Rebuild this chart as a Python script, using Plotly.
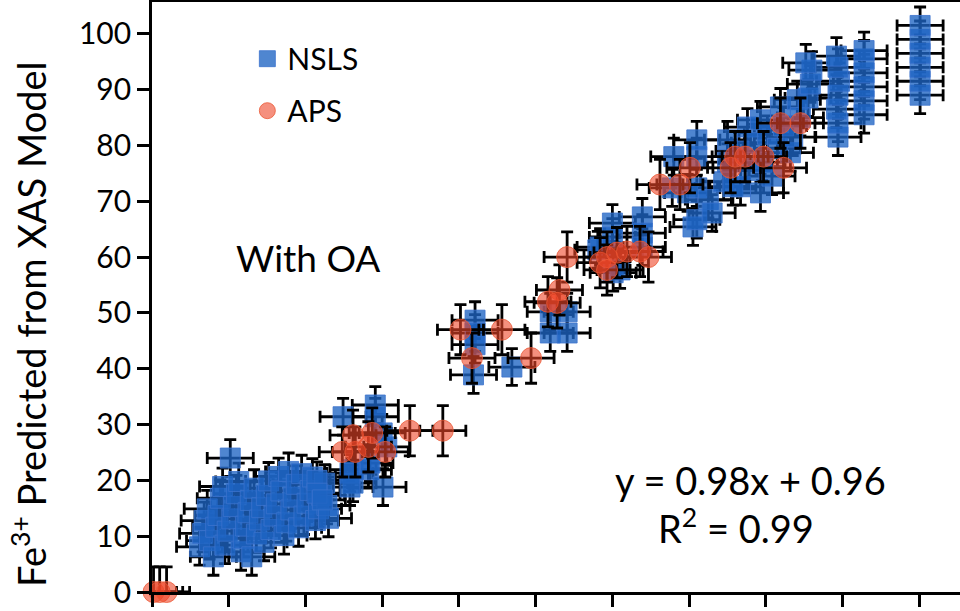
import plotly.graph_objects as go

# ---------------- data ----------------
nsls_x = [6.2, 6.6, 6.8, 7.2, 7.5, 8.0, 8.3, 8.6, 8.9, 9.2, 9.5, 9.8, 10.2, 10.4, 10.6, 11.0, 11.3,
          11.6, 11.9, 12.2, 12.5, 12.8, 13.0, 13.3, 13.6, 14.0, 14.3, 14.6, 14.9, 15.2, 15.5, 15.9,
          16.2, 16.5, 16.8, 17.2, 17.5, 17.8, 18.1, 18.4, 18.8, 19.1, 19.5, 19.8, 20.2, 20.6, 20.9,
          21.3, 21.7, 22.1, 22.5, 22.8, 23.0,
          24.9, 29.1, 29.1, 30.0, 30.6, 26.2, 26.2, 28.2, 28.4, 30.1, 21.5, 21.5, 22.2, 25.8, 25.8,
          42.1, 42.1, 42.1, 41.9, 46.9, 51.9, 54.1, 51.9, 54.1,
          58.1, 58.4, 60.0, 60.0, 60.1, 61.0, 63.9, 63.9, 63.9,
          67.8, 69.8, 70.5, 71.0, 71.0, 71.0, 71.0, 72.5, 73.0, 68.0,
          74.5, 75.0, 75.0, 75.7, 76.5, 76.7, 77.6, 77.8, 78.5, 79.3, 79.3, 79.5, 80.2, 80.8, 81.5,
          81.9, 82.3, 83.2, 83.5, 84.1, 84.5,
          85.5, 85.8, 86.0, 85.2,
          89.4, 89.4, 89.2, 89.4, 89.6, 89.4, 89.2,
          92.8, 92.8, 92.8, 92.8, 92.8, 92.8,
          100.1, 100.1, 100.1, 100.1, 100.1, 100.1]
nsls_y = [8.1, 10.5, 12.8, 14.9, 9.2, 6.3, 11.6, 13.7, 16.8, 18.9, 8.4, 10.9, 24.0, 13.1, 15.3, 17.6, 19.8,
          7.2, 9.6, 11.8, 14.2, 16.4, 6.3, 18.6, 10.4, 12.9, 15.1, 8.9, 17.3, 19.9, 11.2, 13.6,
          15.8, 20.7, 18.1, 10.1, 12.4, 21.6, 14.7, 17.0, 19.3, 11.5, 21.2, 13.6, 15.9, 18.2, 20.6,
          12.8, 14.9, 17.3, 19.5, 15.5, 13.2,
          31.4, 33.5, 31.4, 28.5, 26.0, 21.9, 19.5, 21.9, 23.1, 18.8, 20.0, 17.7, 16.5, 21.3, 18.8,
          48.7, 46.4, 44.3, 38.9, 40.3, 50.2, 50.2, 46.4, 46.4,
          61.3, 61.8, 66.1, 63.6, 57.2, 57.7, 67.2, 64.3, 61.8,
          72.4, 71.5, 65.4, 72.4, 66.7, 78.0, 81.0, 70.3, 67.9, 78.0,
          73.5, 81.0, 77.0, 72.6, 79.0, 72.6, 83.3, 75.5, 80.5, 84.6, 71.5, 77.0, 82.0, 74.5, 79.5,
          86.9, 83.5, 78.7, 81.5, 88.2, 85.0,
          88.5, 91.0, 93.5, 94.8,
          81.5, 84.0, 86.5, 89.0, 91.5, 94.0, 96.0,
          85.5, 88.0, 90.5, 93.0, 95.5, 97.0,
          89.0, 91.5, 94.0, 96.5, 99.0, 101.5]

aps_x = [0.2, 1.0, 1.9,
         24.8, 26.5, 28.2, 30.4, 26.2, 28.7, 33.6, 37.9,
         40.2, 45.6, 41.7, 49.4, 53.1, 51.6, 52.8, 54.1,
         58.4, 59.3, 60.6, 61.9, 63.6, 64.7, 59.3,
         66.2, 68.8, 70.1,
         75.4, 76.0, 77.3, 79.7, 82.3, 81.9, 84.5]
aps_y = [0.0, 0.0, 0.0,
         25.1, 25.1, 26.0, 25.1, 28.1, 28.5, 28.9, 28.9,
         47.0, 47.0, 41.9, 41.9, 54.1, 52.0, 51.8, 60.0,
         59.0, 60.0, 60.8, 61.0, 61.0, 60.0, 57.7,
         73.0, 73.0, 76.0,
         76.0, 78.0, 78.0, 78.0, 76.0, 84.0, 84.0]

nsls_err_x, nsls_err_y = 3.0, 3.3
aps_err_x, aps_err_y = 3.0, 4.5

y_ticks = [0, 10, 20, 30, 40, 50, 60, 70, 80, 90, 100]
x_ticks = [0, 10, 20, 30, 40, 50, 60, 70, 80, 90, 100]

FONT = "Lato"

fig = go.Figure()

fig.add_trace(go.Scatter(
    x=nsls_x, y=nsls_y, mode="markers", name="NSLS", legendgroup="a",
    marker=dict(symbol="square", size=20, color="rgba(30,100,195,0.78)",
                line=dict(color="rgba(60,115,205,0.8)", width=1)),
    error_x=dict(type="constant", value=nsls_err_x, color="black", thickness=2.8, width=6),
    error_y=dict(type="constant", value=nsls_err_y, color="black", thickness=2.8, width=6),
    cliponaxis=False,
))

fig.add_trace(go.Scatter(
    x=aps_x, y=aps_y, mode="markers", name="APS", legendgroup="b",
    marker=dict(symbol="circle", size=21, color="rgba(238,70,40,0.6)",
                line=dict(color="rgba(235,90,55,0.8)", width=1)),
    error_x=dict(type="constant", value=aps_err_x, color="black", thickness=2.8, width=6),
    error_y=dict(type="constant", value=aps_err_y, color="black", thickness=2.8, width=6),
    cliponaxis=False,
))

fig.update_layout(
    width=960, height=611,
    margin=dict(l=152, r=0, t=2, b=19),
    paper_bgcolor="white", plot_bgcolor="white",
    font=dict(family=FONT, color="black"),
    showlegend=True,
    legend=dict(x=0.118, y=0.948, xanchor="left", yanchor="top",
                bgcolor="rgba(0,0,0,0)", font=dict(size=30, family=FONT),
                tracegroupgap=10),
    xaxis=dict(range=[0, 105.3], tickvals=x_ticks, showticklabels=False,
               ticks="outside", ticklen=12, tickwidth=2.5, tickcolor="black",
               showline=True, linecolor="black", linewidth=2.8, mirror=True,
               showgrid=False, zeroline=False),
    yaxis=dict(range=[0, 105.7], tickvals=y_ticks,
               ticks="outside", ticklen=12, tickwidth=2.5, tickcolor="black",
               showline=True, linecolor="black", linewidth=2.8,
               showgrid=False, zeroline=False,
               tickfont=dict(size=30, family=FONT, color="black")),
    annotations=[
        dict(text="Fe<sup>3+</sup> Predicted from XAS Model", textangle=-90,
             xref="paper", yref="paper", x=-0.152, y=0.453,
             xanchor="center", yanchor="middle", showarrow=False,
             font=dict(size=38, family=FONT, color="black")),
        dict(text="With OA", xref="x", yref="y", x=20.3, y=59.9,
             showarrow=False, font=dict(size=37, family=FONT, color="black")),
        dict(text="y = 0.98x + 0.96", xref="x", yref="y", x=78.0, y=20.0,
             showarrow=False, font=dict(size=38, family=FONT, color="black")),
        dict(text="R<sup>2</sup> = 0.99", xref="x", yref="y", x=76.1, y=11.8,
             showarrow=False, font=dict(size=38, family=FONT, color="black")),
    ],
)

fig.write_html("out.html")
